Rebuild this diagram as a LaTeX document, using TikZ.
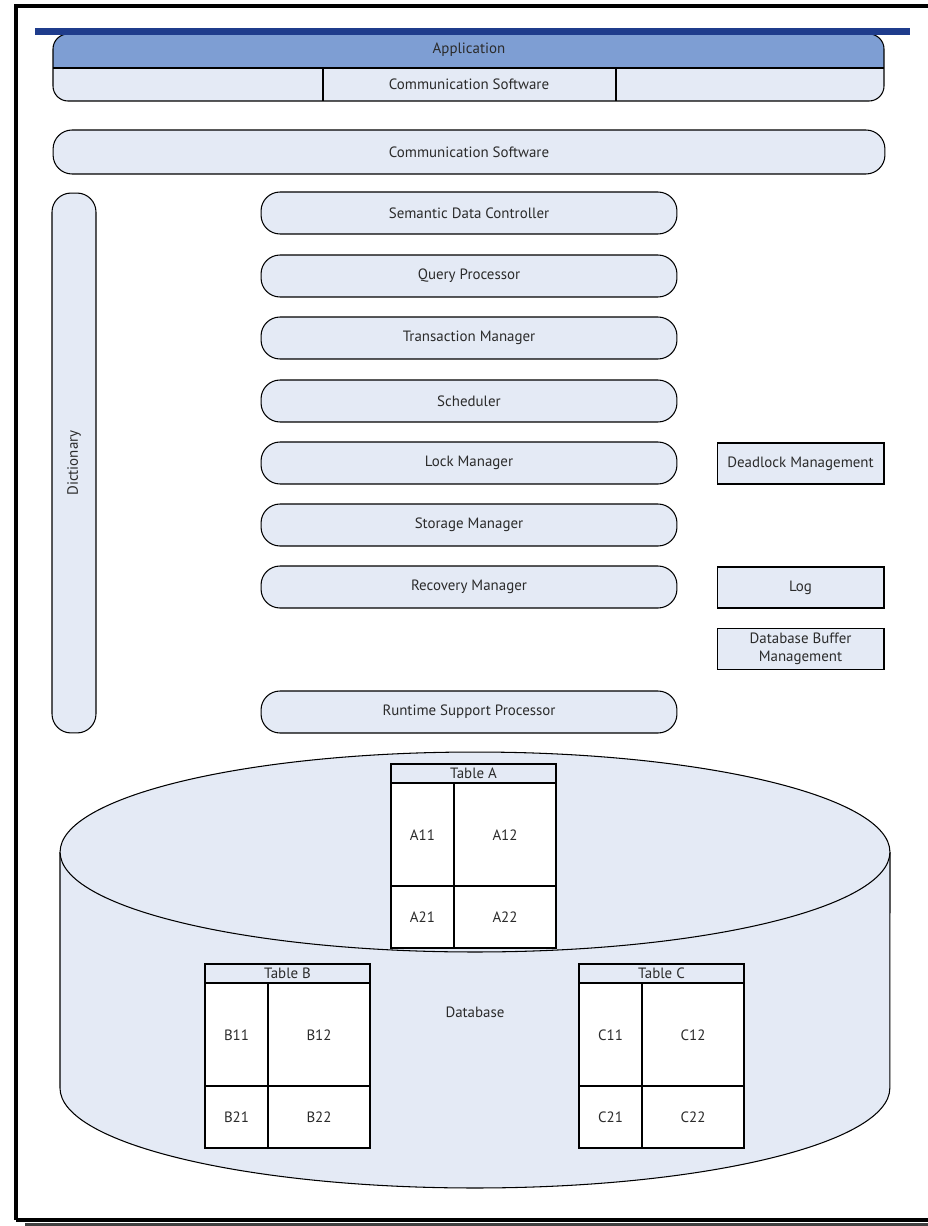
\documentclass[tikz,border=0pt]{standalone}
\usepackage{fontspec}
\setmainfont{PT Sans}
\definecolor{barblue}{HTML}{1F3C8C}
\definecolor{appblue}{HTML}{7E9ED3}
\definecolor{paleblue}{HTML}{E4EAF5}
\definecolor{inkgray}{HTML}{2B2B2B}
\begin{document}
\begin{tikzpicture}[x=0.02cm,y=-0.02cm,line width=0.6pt,font=\fontsize{8.5}{10}\selectfont,text=inkgray]
    \tikzset{pill/.style = {shape=rectangle,draw,fill=paleblue,rounded corners=0.38cm,minimum width=8.32cm,minimum height=0.84cm}}
    \tikzset{sidebox/.style = {shape=rectangle,draw,fill=paleblue,minimum width=3.34cm,minimum height=0.82cm,align=center,inner sep=1pt}}
    \tikzset{head/.style = {shape=rectangle,draw,fill=paleblue,minimum width=3.3cm,minimum height=0.38cm,inner sep=0pt}}
    \tikzset{cellA/.style = {shape=rectangle,draw,fill=white,minimum width=1.26cm,inner sep=0pt}}
    \tikzset{cellB/.style = {shape=rectangle,draw,fill=white,minimum width=2.04cm,inner sep=0pt}}
    \tikzset{tall/.style = {minimum height=2.08cm}}
    \tikzset{short/.style = {minimum height=1.24cm}}

    \useasboundingbox (0,0) rectangle (927,1226);

    % frame
    \draw[line width=2.2pt] (16,1220) -- (16,6) -- (940,6);
    \draw[line width=2.2pt] (16,1220) -- (940,1220);
    \fill[black!75] (25,1222.5) rectangle (940,1226);

    % application block
    \begin{scope}
    \clip[rounded corners=0.3cm] (53,34) rectangle (884,101);
    \fill[paleblue] (53,34) rectangle (884,101);
    \fill[appblue] (53,34) rectangle (884,68);
    \end{scope}
    \draw[rounded corners=0.3cm] (53,34) rectangle (884,101);
    \draw (53,68) -- (884,68);
    \draw (323,68) -- (323,101);
    \draw (616,68) -- (616,101);
    \fill[barblue] (35,28) rectangle (910,35);
    \node (app) at (469,50) {Application};
    \node (comm1) at (469,84) {Communication Software};

    % layers
    \node[pill,minimum width=16.64cm,minimum height=0.88cm] (comm2) at (469,152) {Communication Software};
    \node[pill,rotate=90,minimum width=10.8cm,minimum height=0.88cm] (dict) at (74,463) {Dictionary};

    \node[pill] (sdc) at (469,213) {Semantic Data Controller};
    \node[pill] (qp) at (469,276) {Query Processor};
    \node[pill] (tm) at (469,338) {Transaction Manager};
    \node[pill] (sched) at (469,401) {Scheduler};
    \node[pill] (lm) at (469,463) {Lock Manager};
    \node[pill] (sm) at (469,525) {Storage Manager};
    \node[pill] (rm) at (469,587) {Recovery Manager};
    \node[pill] (rsp) at (469,712) {Runtime Support Processor};

    \node[sidebox] (dlm) at (800.5,463.5) {Deadlock Management};
    \node[sidebox] (log) at (800.5,587.5) {Log};
    \node[sidebox] (dbm) at (800.5,649) {Database Buffer\\Management};

    % database
    \fill[paleblue] (60,852) rectangle (890,1088);
    \fill[paleblue] (475,1088) ellipse[x radius=8.3cm,y radius=2cm];
    \draw (60,852) -- (60,1088) arc[start angle=180,end angle=360,x radius=8.3cm,y radius=2cm] -- (890,852);
    \draw[fill=paleblue] (475,852) ellipse[x radius=8.3cm,y radius=2cm];
    \node (db) at (475,1012) {Database};

    % table A
    \node[head] (tabA) at (473.5,773.5) {Table A};
    \node[cellA,tall] (a11) at (422.5,835) {A11};
    \node[cellB,tall] (a12) at (505,835) {A12};
    \node[cellA,short] (a21) at (422.5,917) {A21};
    \node[cellB,short] (a22) at (505,917) {A22};

    % table B
    \node[head] (tabB) at (287.5,973.5) {Table B};
    \node[cellA,tall] (b11) at (236.5,1035) {B11};
    \node[cellB,tall] (b12) at (319,1035) {B12};
    \node[cellA,short] (b21) at (236.5,1117) {B21};
    \node[cellB,short] (b22) at (319,1117) {B22};

    % table C
    \node[head] (tabC) at (661.5,973.5) {Table C};
    \node[cellA,tall] (c11) at (610.5,1035) {C11};
    \node[cellB,tall] (c12) at (693,1035) {C12};
    \node[cellA,short] (c21) at (610.5,1117) {C21};
    \node[cellB,short] (c22) at (693,1117) {C22};
\end{tikzpicture}
\end{document}
